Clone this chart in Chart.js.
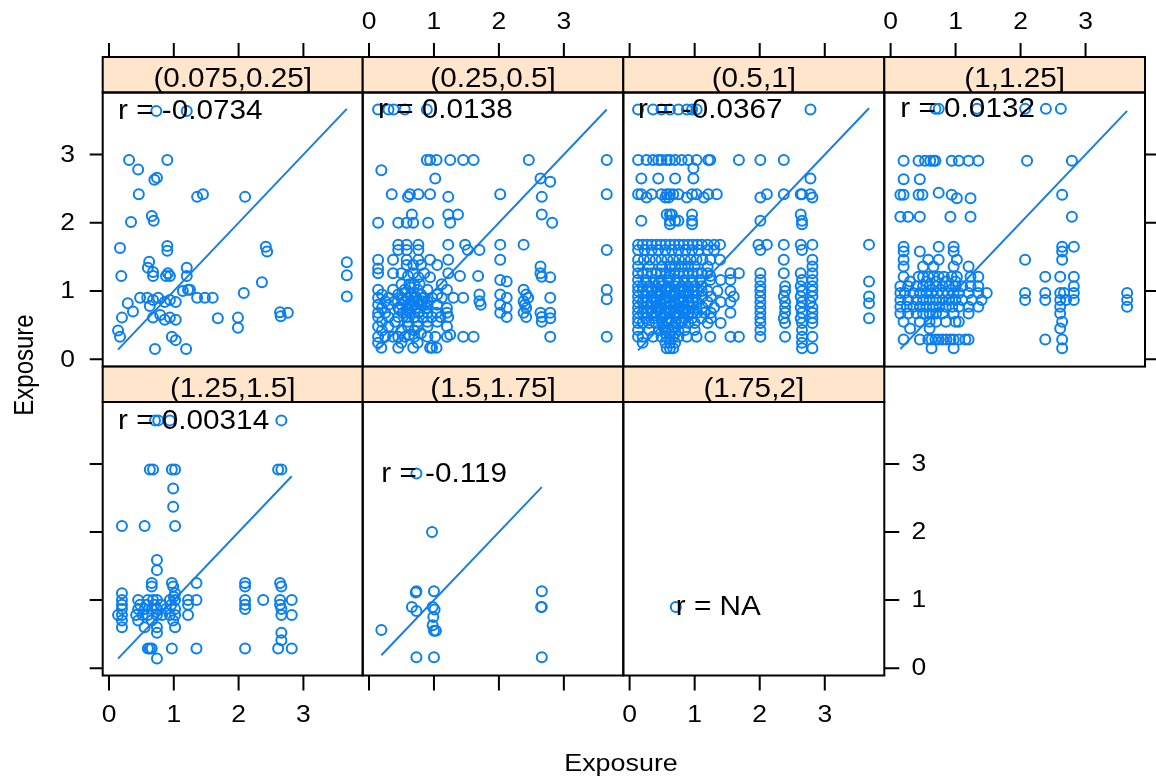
<!DOCTYPE html>
<html>
<head>
<meta charset="utf-8">
<script src="https://cdn.jsdelivr.net/npm/chart.js@4/dist/chart.umd.min.js"></script>
<style>
  html, body { margin: 0; padding: 0; background: #ffffff; }
  #wrap { position: relative; width: 1156px; height: 784px; overflow: hidden; background: #ffffff; }
  #wrap canvas { position: absolute; left: 0; top: 0; }
</style>
</head>
<body>
<div id="wrap"></div>
<script>
// ---------------- data ----------------
const stripLabels = ['(0.075,0.25]', '(0.25,0.5]', '(0.5,1]', '(1,1.25]', '(1.25,1.5]', '(1.5,1.75]', '(1.75,2]'];
const rLabels = ['r = -0.0734', 'r = 0.0138', 'r = -0.0367', 'r = 0.0132', 'r = 0.00314', 'r = -0.119', 'r = NA'];
const xTicks = [0, 1, 2, 3];
const yTicks = [0, 1, 2, 3];
const xTickLabels = ['0', '1', '2', '3'];
const yTickLabels = ['0', '1', '2', '3'];
const axisTitleX = 'Exposure';
const axisTitleY = 'Exposure';

const p1 = [[0.73,3.64],[1.2,3.64],[0.31,2.92],[0.9,2.92],[0.45,2.78],[0.7,2.63],[0.74,2.66],[0.46,2.42],[1.36,2.38],[1.45,2.42],[2.1,2.38],
[0.34,2.01],[0.66,2.1],[0.69,2.03],[0.9,1.66],[0.9,1.59],[0.17,1.63],[0.62,1.43],[0.6,1.34],[0.68,1.28],[0.68,1.22],[0.19,1.22],
[0.88,1.22],[0.94,1.22],[0.91,1.26],[1.2,1.34],[1.2,1.22],[1.25,1.02],[0.48,0.9],[0.59,0.9],[0.68,0.87],[0.76,0.9],[0.86,0.84],
[0.94,0.87],[1.03,0.84],[1.14,1.0],[1.22,1.02],[1.36,0.9],[1.48,0.9],[1.6,0.9],[0.29,0.82],[0.37,0.7],[0.2,0.61],[0.14,0.42],
[0.17,0.33],[0.63,0.78],[0.68,0.61],[0.79,0.65],[0.86,0.58],[0.94,0.61],[1.03,0.58],[0.97,0.33],[1.03,0.28],[0.71,0.15],
[1.19,0.15],[1.68,0.6],[1.99,0.61],[1.99,0.46],[2.08,0.97],[2.36,1.13],[2.42,1.65],[2.44,1.58],[2.64,0.69],[2.65,0.63],
[2.76,0.68],[3.67,1.42],[3.67,1.23],[3.67,0.92]];

const p2 = [[0.14,3.66],[0.3,3.66],[0.38,3.66],[0.55,3.66],[0.89,3.66],
[0.89,2.92],[0.94,2.92],[1.04,2.92],[1.25,2.92],[1.45,2.92],[1.61,2.92],[2.46,2.92],[3.66,2.92],
[0.19,2.77],[1.02,2.65],[2.64,2.65],[2.79,2.6],
[0.35,2.42],[0.6,2.38],[0.63,2.42],[0.76,2.42],[0.94,2.42],[1.22,2.38],[2.02,2.42],[2.66,2.38],[3.66,2.42],
[0.14,2.0],[0.45,2.0],[0.58,2.0],[0.66,2.12],[0.68,2.0],[0.91,2.0],[1.22,2.12],[1.25,2.0],[1.37,2.12],[2.66,2.12],[2.82,2.0],
[0.45,1.68],[0.58,1.68],[0.76,1.68],[0.45,1.6],[0.58,1.6],[0.76,1.6],[1.22,1.68],[1.48,1.68],[1.52,1.6],[1.7,1.6],[2.02,1.68],[2.38,1.68],[3.66,1.6],
[0.14,1.46],[0.37,1.46],[0.58,1.46],[0.76,1.46],[0.94,1.46],[1.22,1.46],[2.02,1.46],
[0.58,1.38],[0.68,1.38],[0.8,1.38],[0.14,1.33],[1.05,1.38],[2.64,1.36],
[0.14,1.26],[0.37,1.26],[0.5,1.26],[0.6,1.22],[0.68,1.26],[0.76,1.2],[0.85,1.26],[0.94,1.2],[1.22,1.26],[1.4,1.22],[1.68,1.22],[2.02,1.16],[2.12,1.14],[2.64,1.26],[2.66,1.21],[2.79,1.2],
[0.5,1.1],[0.62,1.1],[0.7,1.1],[0.78,1.1],[1.12,1.1],
[0.14,1.02],[0.37,1.02],[0.55,1.02],[0.75,1.02],[0.9,1.02],[1.2,1.02],[2.38,1.02],[3.66,1.02],
[0.2,0.95],[0.45,0.95],[0.65,0.95],[0.8,0.95],[1.05,0.95],[1.7,0.95],[2.02,0.95],[2.42,0.95],
[0.14,0.9],[0.3,0.9],[0.5,0.9],[0.6,0.9],[0.7,0.9],[0.85,0.9],[0.97,0.9],[1.12,0.9],[1.3,0.9],[1.45,0.9],[2.12,0.9],[2.45,0.9],[2.79,0.9],[3.66,0.88],
[0.25,0.85],[0.4,0.85],[0.55,0.85],[0.68,0.85],[0.75,0.85],[0.82,0.85],[0.9,0.85],[1.7,0.85],[2.38,0.85],
[0.14,0.8],[0.3,0.8],[0.5,0.8],[0.62,0.8],[0.7,0.8],[0.8,0.8],[0.9,0.8],[1.05,0.8],[1.72,0.8],[2.02,0.8],[2.4,0.8],
[0.2,0.75],[0.45,0.75],[0.6,0.75],[0.72,0.75],[0.88,0.75],[1.2,0.75],[2.12,0.75],[2.42,0.75],
[0.14,0.68],[0.25,0.68],[0.52,0.68],[0.63,0.68],[0.76,0.68],[0.9,0.68],[1.04,0.68],[1.2,0.68],[2.02,0.68],[2.38,0.68],[2.64,0.68],[2.79,0.68],
[0.14,0.62],[0.3,0.62],[0.45,0.62],[0.58,0.62],[0.7,0.62],[0.83,0.62],[0.97,0.62],[1.1,0.62],[1.22,0.62],[2.12,0.62],[2.42,0.62],[2.66,0.62],[2.79,0.6],
[0.2,0.55],[0.4,0.55],[0.6,0.55],[0.75,0.55],[0.9,0.55],[1.05,0.55],[2.66,0.55],
[0.14,0.48],[0.3,0.48],[0.6,0.48],[0.75,0.48],[0.9,0.48],[1.2,0.48],
[0.2,0.42],[0.5,0.42],[0.7,0.42],
[0.14,0.33],[0.25,0.33],[0.37,0.33],[0.45,0.33],[0.55,0.33],[0.62,0.36],[0.7,0.33],[0.8,0.38],[0.9,0.33],[1.02,0.33],[1.2,0.33],[1.25,0.36],[1.45,0.33],[1.61,0.33],[2.79,0.33],[3.66,0.33],
[0.14,0.24],[0.5,0.24],[0.75,0.24],
[0.19,0.17],[0.45,0.17],[0.68,0.17],[0.94,0.17],[0.97,0.17],[1.04,0.17],
[0.52,0.88],[0.58,0.72],[0.66,0.78],[0.72,0.92],[0.78,0.7],[0.56,0.98],[0.64,1.05],[0.47,0.72]];

const p3 = [[0.13,3.66],[0.36,3.66],[0.49,3.66],[0.62,3.66],[0.75,3.66],[0.88,3.66],[0.96,3.66],[1.03,3.66],[2.78,3.66],
[0.13,2.92],[0.26,2.92],[0.36,2.92],[0.44,2.92],[0.49,2.92],[0.57,2.92],[0.62,2.92],[0.7,2.92],[0.8,2.92],[0.9,2.92],[1.03,2.92],[1.21,2.92],[1.24,2.92],[1.68,2.92],[2.01,2.92],[2.37,2.92],
[0.98,2.8],
[0.18,2.65],[0.44,2.65],[0.7,2.65],[0.98,2.65],[2.78,2.65],
[0.13,2.42],[0.18,2.42],[0.34,2.42],[0.49,2.42],[0.57,2.42],[0.62,2.42],[0.67,2.42],[0.75,2.42],[0.96,2.42],[1.03,2.42],[1.21,2.42],[1.34,2.42],[2.11,2.42],[2.37,2.42],[2.63,2.42],[2.65,2.42],[2.78,2.42],
[0.26,2.37],[0.55,2.37],[0.6,2.37],[0.88,2.37],[1.14,2.37],[2.01,2.37],[2.81,2.37],
[0.57,2.12],[0.62,2.12],[0.65,2.12],[0.96,2.12],[2.63,2.12],
[0.18,2.03],[0.62,2.03],[0.7,2.03],[0.75,2.03],[0.96,2.03],[2.01,2.03],[2.65,2.03],
[0.62,1.98],[0.96,1.98],[2.65,1.98],
[0.13,1.68],[0.2,1.68],[0.27,1.68],[0.34,1.68],[0.41,1.68],[0.48,1.68],[0.55,1.68],[0.62,1.68],[0.69,1.68],[0.76,1.68],[0.83,1.68],[0.9,1.68],[0.97,1.68],[1.04,1.68],[1.11,1.68],[1.2,1.68],[1.3,1.68],[1.39,1.68],[1.98,1.68],[2.11,1.68],[2.37,1.68],[2.63,1.68],[2.81,1.68],[3.68,1.68],
[0.13,1.6],[0.23,1.6],[0.34,1.6],[0.44,1.6],[0.55,1.6],[0.65,1.6],[0.75,1.6],[0.86,1.6],[0.96,1.6],[1.06,1.6],[1.2,1.6],[1.3,1.6],[2.01,1.6],[2.65,1.6],
[0.13,1.46],[0.22,1.46],[0.31,1.46],[0.4,1.46],[0.49,1.46],[0.58,1.46],[0.67,1.46],[0.76,1.46],[0.85,1.46],[0.94,1.46],[1.03,1.46],[1.12,1.46],[1.24,1.46],[1.39,1.46],[2.37,1.46],[2.81,1.46],
[0.13,1.36],[0.3,1.36],[0.5,1.36],[0.62,1.36],[0.7,1.36],[0.8,1.36],[0.9,1.36],[1.0,1.36],[1.2,1.36],[2.81,1.36],
[0.13,1.26],[0.2,1.26],[0.27,1.26],[0.34,1.26],[0.41,1.26],[0.48,1.26],[0.55,1.26],[0.62,1.26],[0.69,1.26],[0.76,1.26],[0.83,1.26],[0.9,1.26],[0.97,1.26],[1.04,1.26],[1.11,1.26],[1.2,1.26],[1.24,1.22],[1.55,1.26],[1.68,1.26],[2.01,1.26],[2.37,1.26],[2.63,1.26],[2.81,1.26],
[0.13,1.16],[0.25,1.16],[0.37,1.16],[0.49,1.16],[0.6,1.16],[0.72,1.16],[0.84,1.16],[0.96,1.16],[1.08,1.16],[1.24,1.16],[1.4,1.16],[1.55,1.16],[2.01,1.16],[2.65,1.16],[2.81,1.16],[3.68,1.14],
[0.13,1.07],[0.2,1.07],[0.3,1.07],[0.4,1.07],[0.5,1.07],[0.6,1.07],[0.7,1.07],[0.8,1.07],[0.9,1.07],[1.0,1.07],[1.1,1.07],[2.01,1.07],[2.39,1.07],[2.63,1.07],[2.81,1.07],
[0.13,1.0],[0.2,1.0],[0.27,1.0],[0.34,1.0],[0.41,1.0],[0.48,1.0],[0.55,1.0],[0.62,1.0],[0.69,1.0],[0.76,1.0],[0.83,1.0],[0.9,1.0],[0.97,1.0],[1.04,1.0],[1.11,1.0],[1.2,1.0],[1.35,1.0],[1.55,1.0],[2.01,1.0],[2.39,1.0],[2.65,1.0],[2.81,1.0],
[0.13,0.92],[0.24,0.92],[0.35,0.92],[0.46,0.92],[0.57,0.92],[0.68,0.92],[0.79,0.92],[0.9,0.92],[1.01,0.92],[1.12,0.92],[1.25,0.92],[1.6,0.92],[2.01,0.92],[2.37,0.92],[2.63,0.92],[2.81,0.92],[3.68,0.92],
[0.13,0.84],[0.2,0.84],[0.27,0.84],[0.34,0.84],[0.41,0.84],[0.48,0.84],[0.55,0.84],[0.62,0.84],[0.69,0.84],[0.76,0.84],[0.83,0.84],[0.9,0.84],[0.97,0.84],[1.04,0.84],[1.2,0.84],[1.4,0.84],[1.55,0.84],[2.01,0.84],[2.39,0.84],[2.65,0.84],[2.78,0.84],[3.68,0.82],
[0.13,0.76],[0.22,0.76],[0.31,0.76],[0.4,0.76],[0.49,0.76],[0.58,0.76],[0.67,0.76],[0.76,0.76],[0.85,0.76],[0.94,0.76],[1.03,0.76],[1.12,0.76],[1.3,0.76],[2.01,0.76],[2.39,0.76],[2.63,0.76],[2.81,0.76],
[0.13,0.68],[0.2,0.68],[0.27,0.68],[0.34,0.68],[0.41,0.68],[0.48,0.68],[0.55,0.68],[0.62,0.68],[0.69,0.68],[0.76,0.68],[0.83,0.68],[0.9,0.68],[0.97,0.68],[1.04,0.68],[1.15,0.68],[1.25,0.68],[1.55,0.68],[2.01,0.68],[2.39,0.68],[2.65,0.68],[2.81,0.68],
[0.13,0.6],[0.25,0.6],[0.37,0.6],[0.49,0.6],[0.6,0.6],[0.72,0.6],[0.84,0.6],[0.96,0.6],[1.1,0.6],[1.25,0.6],[2.01,0.6],[2.37,0.6],[2.63,0.6],[2.81,0.6],[3.68,0.6],
[0.13,0.53],[0.2,0.53],[0.3,0.53],[0.4,0.53],[0.5,0.53],[0.6,0.53],[0.7,0.53],[0.8,0.53],[0.9,0.53],[1.0,0.53],[1.2,0.53],[1.4,0.53],[2.01,0.53],[2.39,0.53],[2.65,0.53],[2.81,0.53],
[0.13,0.43],[0.3,0.43],[0.45,0.43],[0.55,0.43],[0.65,0.43],[0.75,0.43],[0.85,0.43],[1.0,0.43],[2.01,0.43],[2.65,0.43],
[0.13,0.33],[0.2,0.33],[0.36,0.33],[0.49,0.33],[0.57,0.33],[0.62,0.33],[0.67,0.33],[0.75,0.33],[0.88,0.33],[1.03,0.33],[1.24,0.33],[1.55,0.33],[1.68,0.33],[2.01,0.33],[2.39,0.33],[2.65,0.33],[2.81,0.33],
[0.2,0.24],[0.55,0.24],[0.62,0.24],[0.7,0.24],[2.65,0.24],
[0.57,0.16],[0.62,0.16],[0.67,0.16],[2.65,0.16],[2.81,0.16],
[0.45,0.96],[0.52,0.88],[0.58,1.04],[0.64,0.8],[0.71,0.96],[0.78,0.88],[0.45,0.72],[0.52,0.64],[0.58,0.56],[0.64,0.72],[0.71,0.64],[0.78,0.56],
[0.38,0.88],[0.38,0.64],[0.86,0.96],[0.86,0.72],[0.52,0.48],[0.68,0.48],[0.45,1.12],[0.6,1.2],[0.75,1.12],[0.55,0.38],[0.7,0.38]];

const p4 = [[0.69,3.67],[0.74,3.67],[1.33,3.67],[2.07,3.67],[2.39,3.67],[2.62,3.67],
[0.2,2.91],[0.43,2.91],[0.53,2.91],[0.61,2.91],[0.66,2.91],[0.69,2.91],[0.94,2.91],[1.05,2.91],[1.2,2.91],[1.35,2.91],[2.1,2.91],[2.79,2.91],
[0.2,2.64],[0.45,2.64],
[0.15,2.41],[0.2,2.41],[0.43,2.41],[0.49,2.41],[0.94,2.41],[2.64,2.41],[0.74,2.44],[1.02,2.36],[1.23,2.36],
[0.15,2.09],[0.27,2.09],[0.45,2.09],[0.92,2.09],[1.23,2.09],[2.79,2.09],
[0.2,1.65],[0.74,1.65],[0.97,1.65],[2.64,1.65],[2.82,1.65],[0.2,1.58],[0.45,1.58],[0.97,1.58],[2.64,1.58],
[0.2,1.46],[0.58,1.46],[0.74,1.46],[1.02,1.46],[2.07,1.46],[2.64,1.46],
[0.2,1.36],[0.5,1.36],[0.66,1.36],[0.97,1.36],[1.2,1.36],
[0.2,1.21],[0.43,1.21],[0.5,1.21],[0.58,1.21],[0.66,1.21],[0.74,1.21],[0.82,1.21],[0.94,1.21],[1.02,1.21],[1.23,1.21],[1.35,1.21],[2.38,1.21],[2.61,1.21],[2.82,1.21],
[0.3,1.14],[0.55,1.14],[0.7,1.14],[0.85,1.14],[1.0,1.14],
[0.15,1.07],[0.27,1.07],[0.4,1.07],[0.5,1.07],[0.6,1.07],[0.7,1.07],[0.8,1.07],[0.9,1.07],[1.0,1.07],[1.1,1.07],[1.23,1.07],[1.35,1.07],[2.82,1.07],
[0.15,0.97],[0.22,0.97],[0.35,0.97],[0.45,0.97],[0.55,0.97],[0.63,0.97],[0.72,0.97],[0.8,0.97],[0.88,0.97],[0.97,0.97],[1.05,0.97],[1.2,0.97],[1.35,0.97],[1.48,0.97],[2.07,0.97],[2.38,0.97],[2.61,0.97],[2.67,0.97],[2.82,0.97],[3.64,0.97],
[0.15,0.87],[0.27,0.87],[0.4,0.87],[0.5,0.87],[0.6,0.87],[0.7,0.87],[0.8,0.87],[0.9,0.87],[1.0,0.87],[1.1,0.87],[1.25,0.87],[1.4,0.87],[2.07,0.87],[2.38,0.87],[2.61,0.87],[2.7,0.87],[2.82,0.87],[3.64,0.87],
[0.15,0.77],[0.25,0.77],[0.35,0.77],[0.45,0.77],[0.55,0.77],[0.65,0.77],[0.75,0.77],[0.85,0.77],[0.95,0.77],[1.05,0.77],[1.2,0.77],[1.35,0.77],[2.61,0.77],[3.64,0.77],
[0.15,0.67],[0.27,0.67],[0.4,0.67],[0.5,0.67],[0.6,0.67],[0.7,0.67],[0.8,0.67],[0.97,0.67],[1.2,0.67],[2.61,0.67],
[0.2,0.55],[0.45,0.55],[0.6,0.55],[0.7,0.55],[0.85,0.55],[1.0,0.55],[1.05,0.55],[2.64,0.55],
[0.3,0.45],[0.6,0.45],[2.61,0.45],
[0.2,0.29],[0.45,0.29],[0.58,0.29],[0.63,0.29],[0.69,0.29],[0.74,0.29],[0.8,0.29],[0.86,0.29],[0.92,0.29],[0.97,0.29],[1.05,0.29],[1.15,0.29],[1.2,0.29],[2.38,0.29],[2.64,0.29],
[0.63,0.16],[0.97,0.16],[2.64,0.16]];

const p5 = [[0.71,3.64],[0.76,3.64],[0.94,3.64],[2.66,3.64],
[0.63,2.92],[0.68,2.92],[0.97,2.92],[1.02,2.92],[2.61,2.92],[2.66,2.92],
[0.99,2.64],[0.99,2.37],[0.2,2.09],[0.55,2.09],[1.02,2.09],
[0.74,1.59],[0.74,1.44],
[0.66,1.25],[0.97,1.25],[1.35,1.25],[2.1,1.25],[2.64,1.25],[0.66,1.2],[0.99,1.2],[2.1,1.2],[2.66,1.2],
[0.2,1.1],[1.02,1.1],[1.0,1.05],
[0.2,1.0],[0.45,1.0],[0.6,1.0],[0.68,1.0],[0.74,1.0],[0.94,1.0],[1.02,1.0],[1.22,1.0],[1.35,1.0],[2.1,1.0],[2.38,1.0],[2.64,1.0],[2.82,1.0],
[0.2,0.93],[0.48,0.93],[0.58,0.93],[0.7,0.93],[0.8,0.93],[0.96,0.93],[1.22,0.93],[2.1,0.93],[2.64,0.93],
[0.2,0.87],[0.45,0.87],[0.55,0.87],[0.66,0.87],[0.74,0.87],[0.88,0.87],[1.02,0.87],[2.1,0.87],[2.66,0.87],
[0.14,0.78],[0.2,0.78],[0.42,0.78],[0.52,0.78],[0.6,0.78],[0.74,0.78],[0.82,0.78],[0.94,0.78],[1.02,0.78],[1.22,0.78],[2.66,0.78],[2.82,0.78],
[0.2,0.7],[0.45,0.7],[0.66,0.7],[0.99,0.7],
[0.2,0.6],[0.55,0.6],[0.74,0.6],[1.02,0.6],
[0.74,0.52],[2.66,0.52],[2.66,0.41],
[0.6,0.29],[0.63,0.29],[0.66,0.29],[0.97,0.29],[1.35,0.29],[2.1,0.29],[2.61,0.29],[2.82,0.29],
[0.74,0.14]];

const p6 = [[0.73,2.86],[0.97,2.0],[0.73,1.13],[0.72,1.11],[1.0,1.13],[2.66,1.13],[0.66,0.9],[0.73,0.84],[0.98,0.9],[1.01,0.86],
[0.99,0.75],[0.98,0.63],[1.0,0.55],[1.03,0.55],[2.66,0.9],[2.65,0.9],[0.19,0.56],[0.73,0.16],[1.0,0.16],[2.66,0.16]];

const p7 = [[0.71,0.9]];

const panelData = [p1, p2, p3, p4, p5, p6, p7];

// ---------------- layout / style ----------------
const W = 1156, H = 784;
const colL = [102.7, 362.7, 623.3, 884.3];
const colR = [362.7, 623.3, 884.3, 1145];
const rowT = [92.5, 402];
const rowB = [366.6, 675.5];
const stripT = [57, 366.6];
const xRange = [-0.097, 3.915];
const yRange = [-0.108, 3.91];
const pos = [[0,0],[0,1],[0,2],[0,3],[1,0],[1,1],[1,2]]; // [row, col]
// 't' = ticks only, 'l' = ticks + labels
const axesCfg = [
  {top:'t', left:'l'},
  {top:'l'},
  {top:'t'},
  {top:'l', right:'t'},
  {left:'t', bottom:'l'},
  {bottom:'t'},
  {bottom:'l', right:'l'}
];
const PT = '#0a7ff0';
const FONT = "'Liberation Sans', Arial, Helvetica, sans-serif";

function sText(ctx, text, x, y, align, baseline, size, sx) {
  ctx.save();
  ctx.font = size + 'px ' + FONT;
  ctx.fillStyle = '#000';
  ctx.textAlign = align;
  ctx.textBaseline = baseline;
  ctx.translate(x, y);
  ctx.scale(sx, 1);
  ctx.fillText(text, 0, 0);
  ctx.restore();
}

function makeDeco(i) {
  const [r, c] = pos[i];
  const ax = axesCfg[i];
  return {
    id: 'deco' + i,
    beforeDraw(chart) {
      const ctx = chart.ctx, a = chart.chartArea;
      ctx.save();
      const st = stripT[r], sb = a.top;
      ctx.fillStyle = '#ffe5cc';
      ctx.fillRect(a.left, st, a.right - a.left, sb - st);
      ctx.strokeStyle = '#000';
      ctx.lineWidth = 2;
      ctx.strokeRect(a.left, st, a.right - a.left, sb - st);
      ctx.restore();
      sText(ctx, stripLabels[i], (a.left + a.right) / 2, st + 30, 'center', 'alphabetic', 27, 1.1);
    },
    afterDatasetsDraw(chart) {
      const ctx = chart.ctx;
      const xs = chart.scales.x, ys = chart.scales.y;
      const d = panelData[i];
      const minX = Math.min(...d.map(p => p[0]));
      const maxY = Math.max(...d.map(p => p[1]));
      sText(ctx, rLabels[i], xs.getPixelForValue(minX), ys.getPixelForValue(maxY) + 1, 'left', 'middle', 27, 1.1);
    },
    afterDraw(chart) {
      const ctx = chart.ctx, a = chart.chartArea;
      const xs = chart.scales.x, ys = chart.scales.y;
      ctx.save();
      ctx.strokeStyle = '#000';
      ctx.lineWidth = 2;
      ctx.strokeRect(a.left, a.top, a.right - a.left, a.bottom - a.top);
      ctx.beginPath();
      if (ax.top) {
        xTicks.forEach(v => { const p = xs.getPixelForValue(v); ctx.moveTo(p, stripT[r]); ctx.lineTo(p, stripT[r] - 14); });
      }
      if (ax.bottom) {
        xTicks.forEach(v => { const p = xs.getPixelForValue(v); ctx.moveTo(p, a.bottom); ctx.lineTo(p, a.bottom + 15); });
      }
      if (ax.left) {
        yTicks.forEach(v => { const p = ys.getPixelForValue(v); ctx.moveTo(a.left, p); ctx.lineTo(a.left - 13, p); });
      }
      if (ax.right) {
        yTicks.forEach(v => { const p = ys.getPixelForValue(v); ctx.moveTo(a.right, p); ctx.lineTo(a.right + 15, p); });
      }
      ctx.stroke();
      ctx.restore();
      if (ax.top === 'l') xTicks.forEach((v, k) => sText(ctx, xTickLabels[k], xs.getPixelForValue(v), 23, 'center', 'middle', 23, 1.15));
      if (ax.bottom === 'l') xTicks.forEach((v, k) => sText(ctx, xTickLabels[k], xs.getPixelForValue(v), 716, 'center', 'middle', 23, 1.15));
      if (ax.left === 'l') yTicks.forEach((v, k) => sText(ctx, yTickLabels[k], a.left - 35, ys.getPixelForValue(v) + 1, 'center', 'middle', 23, 1.15));
      if (ax.right === 'l') yTicks.forEach((v, k) => sText(ctx, yTickLabels[k], a.right + 34.5, ys.getPixelForValue(v) + 1, 'center', 'middle', 23, 1.15));
      if (i === 0) {
        sText(ctx, axisTitleX, 621, 771, 'center', 'alphabetic', 24, 1.12);
        ctx.save();
        ctx.font = '24px ' + FONT;
        ctx.fillStyle = '#000';
        ctx.textAlign = 'center';
        ctx.textBaseline = 'alphabetic';
        ctx.translate(33, 365);
        ctx.scale(1.12, 1);
        ctx.rotate(-Math.PI / 2);
        ctx.fillText(axisTitleY, 0, 0);
        ctx.restore();
      }
    }
  };
}

const wrap = document.getElementById('wrap');
panelData.forEach((d, i) => {
  const [r, c] = pos[i];
  const cv = document.createElement('canvas');
  cv.width = W; cv.height = H;
  cv.style.width = W + 'px'; cv.style.height = H + 'px';
  wrap.appendChild(cv);
  const xsVals = d.map(p => p[0]);
  const minX = Math.min(...xsVals), maxX = Math.max(...xsVals);
  new Chart(cv, {
    type: 'scatter',
    data: {
      datasets: [
        {
          type: 'scatter',
          data: d.map(p => ({ x: p[0], y: p[1] })),
          pointStyle: 'circle',
          pointRadius: 5,
          pointBorderWidth: 2,
          borderColor: PT,
          backgroundColor: 'rgba(0,0,0,0)',
          pointBackgroundColor: 'rgba(0,0,0,0)',
          pointBorderColor: PT
        },
        {
          type: 'line',
          data: [{ x: minX, y: minX }, { x: maxX, y: maxX }],
          borderColor: '#1a7de0',
          borderWidth: 2,
          pointRadius: 0,
          fill: false,
          showLine: true
        }
      ]
    },
    options: {
      responsive: false,
      animation: false,
      events: [],
      devicePixelRatio: 1,
      layout: { padding: { left: colL[c], right: W - colR[c], top: rowT[r], bottom: H - rowB[r] } },
      plugins: { legend: { display: false }, tooltip: { enabled: false }, title: { display: false } },
      scales: {
        x: { type: 'linear', min: xRange[0], max: xRange[1], display: false },
        y: { type: 'linear', min: yRange[0], max: yRange[1], display: false }
      }
    },
    plugins: [makeDeco(i)]
  });
});
</script>
</body>
</html>
